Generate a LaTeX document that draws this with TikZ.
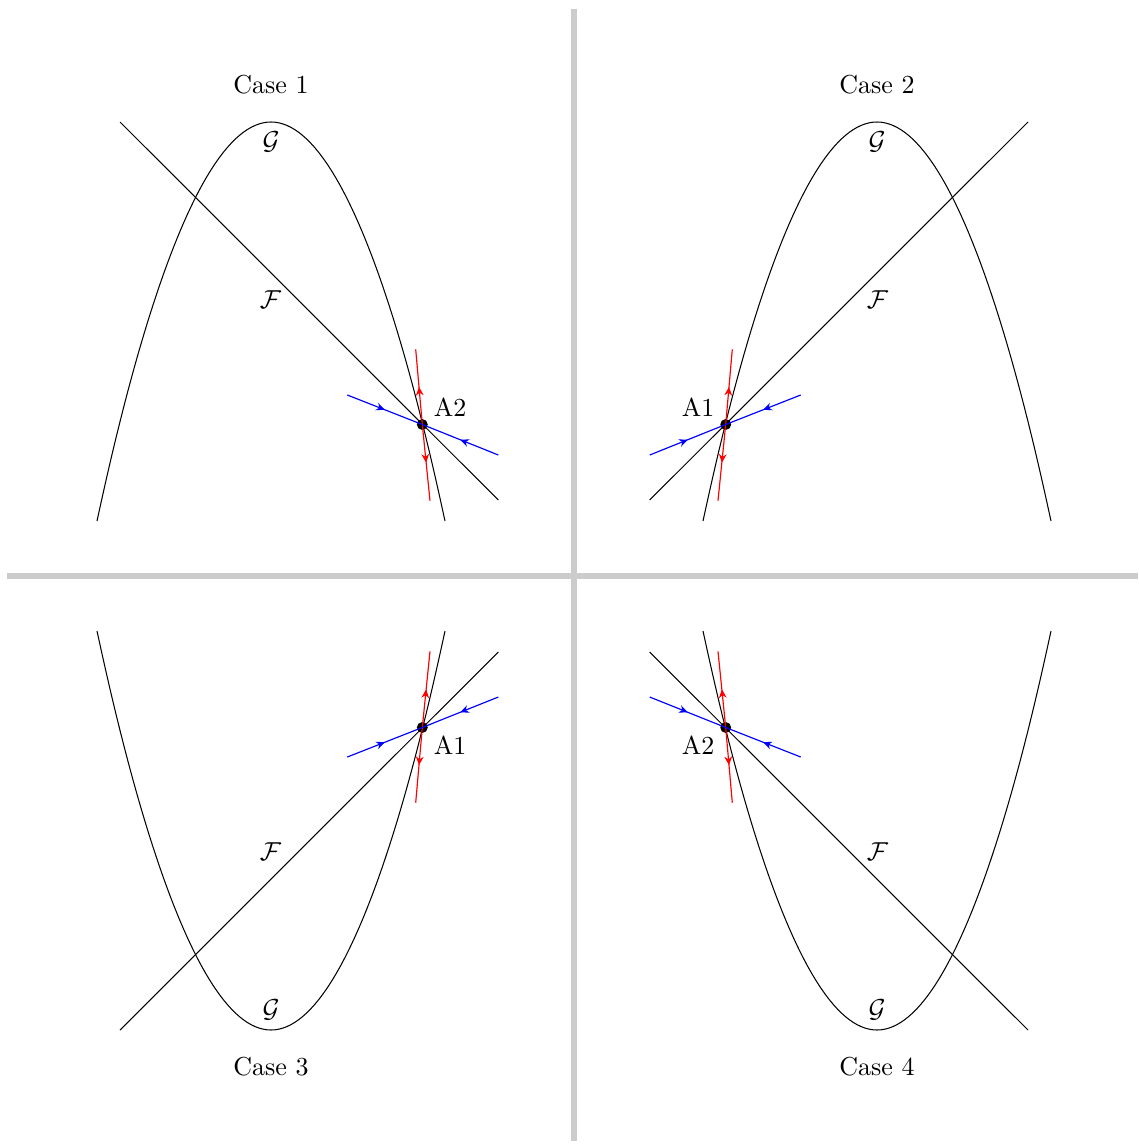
\documentclass[tikz,border=0pt]{standalone}
\usetikzlibrary{arrows.meta,decorations.markings}
\tikzset{
  curve/.style={black, line width=0.4pt},
  sepline/.style={draw=black!20, line width=2.3pt},
  flowtip/.style={decoration={markings, mark=at position 0.5 with {\arrow{Stealth[length=3.3pt,width=3pt]}}}, postaction={decorate}},
  redflow/.style={draw=red, line width=0.45pt, flowtip},
  blueflow/.style={draw=blue, line width=0.45pt, flowtip},
  lbl/.style={inner sep=0pt, font=\normalsize}
}
\newcommand\quadcase[4]{%
\begin{scope}[#2]
  \coordinate (#1A) at (422.3,424.5);
  \coordinate (#1rt) at (415.7,349.3);
  \coordinate (#1rb) at (430,500.7);
  \coordinate (#1bl) at (347.3,395);
  \coordinate (#1br) at (498.3,455);
  \draw[curve] (97,521) parabola bend (271,122) (445,521);
  \draw[curve] (120,122) -- (498.3,500);
  \fill[black] (#1A) circle[radius=2.1pt];
  \draw[redflow] (#1A) -- (#1rt);
  \draw[redflow] (#1A) -- (#1rb);
  \draw[blueflow] (#1bl) -- (#1A);
  \draw[blueflow] (#1br) -- (#1A);
  \node[lbl] (#1lab) at (450,407) {#3};
  \node[lbl] (#1G) at (271,142) {$\mathcal{G}$};
  \node[lbl] (#1F) at (270.5,300) {$\mathcal{F}$};
  \node[lbl] (#1case) at (271,85) {#4};
\end{scope}}
\begin{document}
\begin{tikzpicture}[x=0.385pt, y=-0.385pt]
  \useasboundingbox (0,0) rectangle (1139,1144);
  \coordinate (vtop) at (574,9);
  \coordinate (vbot) at (574,1141);
  \coordinate (hleft) at (7,576);
  \coordinate (hright) at (1138,576);
  \draw[sepline] (vtop) -- (vbot);
  \draw[sepline] (hleft) -- (hright);
  \quadcase{c1}{}{A2}{Case 1}
  \quadcase{c2}{shift={(1148,0)}, xscale=-1}{A1}{Case 2}
  \quadcase{c3}{shift={(0,1152)}, yscale=-1}{A1}{Case 3}
  \quadcase{c4}{shift={(1148,1152)}, xscale=-1, yscale=-1}{A2}{Case 4}
\end{tikzpicture}
\end{document}
